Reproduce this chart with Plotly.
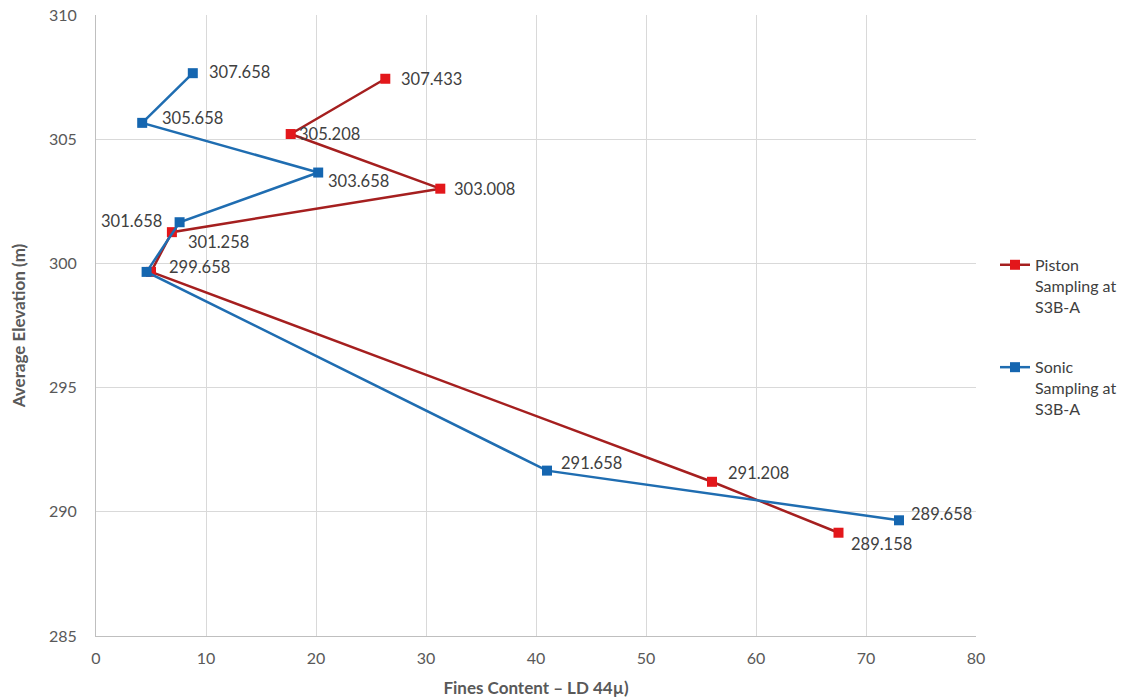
import plotly.graph_objects as go

# Data
piston_name = "Piston<br>Sampling at<br>S3B-A"
sonic_name = "Sonic<br>Sampling at<br>S3B-A"

piston_x = [26.3, 17.7, 31.3, 6.9, 5.0, 56.0, 67.5]
piston_y = [307.433, 305.208, 303.008, 301.258, 299.658, 291.208, 289.158]
piston_labels = ["307.433", "305.208", "303.008", "301.258", "", "291.208", "289.158"]

sonic_x = [8.8, 4.2, 20.2, 7.6, 4.6, 41.0, 73.0]
sonic_y = [307.658, 305.658, 303.658, 301.658, 299.658, 291.658, 289.658]
sonic_labels = ["307.658", "305.658", "303.658", "301.658", "299.658", "291.658", "289.658"]

x_ticks = [0, 10, 20, 30, 40, 50, 60, 70, 80]
y_ticks = [285, 290, 295, 300, 305, 310]

# Label offsets (styling, pixels)
piston_shift = [(14, 0), (6, 0), (12, 0), (14, -10), (0, 0), (14, 9), (10, -11)]
sonic_shift = [(14, 1), (18, 5), (8, -8), (-16, 1), (20, 5), (12, 8), (10, 6)]

FONT = "Lato, 'Open Sans', sans-serif"
TXT = "#404040"

fig = go.Figure()
fig.add_trace(go.Scatter(
    x=piston_x, y=piston_y, name=piston_name, mode="lines+markers",
    legendgroup="p",
    line=dict(color="#A51F1F", width=2.5),
    marker=dict(symbol="square", size=10, color="#E3171B"),
))
fig.add_trace(go.Scatter(
    x=sonic_x, y=sonic_y, name=sonic_name, mode="lines+markers",
    legendgroup="s",
    line=dict(color="#1F6DB1", width=2.5),
    marker=dict(symbol="square", size=10, color="#1566B0"),
))

annotations = []
for xs, ys, labs, shifts in [(piston_x, piston_y, piston_labels, piston_shift),
                              (sonic_x, sonic_y, sonic_labels, sonic_shift)]:
    for x, y, t, (dx, dy) in zip(xs, ys, labs, shifts):
        if not t:
            continue
        annotations.append(dict(
            x=x, y=y, text=t, showarrow=False,
            xanchor="left" if dx >= 0 else "right", yanchor="middle",
            xshift=dx, yshift=dy,
            font=dict(family=FONT, size=16.5, color=TXT),
        ))

fig.update_layout(
    width=1125, height=698,
    margin=dict(l=96, r=149, t=15, b=62, autoexpand=False),
    paper_bgcolor="white", plot_bgcolor="white",
    font=dict(family=FONT, size=16, color="#595959"),
    annotations=annotations,
    showlegend=True,
    legend=dict(
        x=1.0216, y=0.625, xanchor="left", yanchor="top",
        font=dict(family=FONT, size=16, color=TXT),
        tracegroupgap=37, itemwidth=30, valign="top",
        bgcolor="rgba(0,0,0,0)",
    ),
    xaxis=dict(
        range=[0, 80], tickvals=x_ticks, showgrid=True, gridcolor="#D9D9D9",
        gridwidth=1, showline=True, linecolor="#BFBFBF", linewidth=1,
        zeroline=False, ticks="outside", ticklen=8, tickcolor="rgba(0,0,0,0)",
        automargin=False,
        tickfont=dict(family=FONT, size=16, color="#595959"),
        title=dict(text="<b>Fines Content – LD 44µ)</b>", standoff=15,
                   font=dict(family=FONT, size=17, color="#595959")),
    ),
    yaxis=dict(
        range=[285, 310], tickvals=y_ticks, showgrid=True, gridcolor="#D9D9D9",
        gridwidth=1, showline=True, linecolor="#BFBFBF", linewidth=1,
        zeroline=False, ticks="outside", ticklen=15, tickcolor="rgba(0,0,0,0)",
        automargin=False,
        tickfont=dict(family=FONT, size=16, color="#595959"),
        title=dict(text="<b>Average Elevation (m)</b>", standoff=19,
                   font=dict(family=FONT, size=17, color="#595959")),
    ),
)

fig.write_html("out.html", config={"displayModeBar": False},
               post_script="document.body.style.margin='0px';")
